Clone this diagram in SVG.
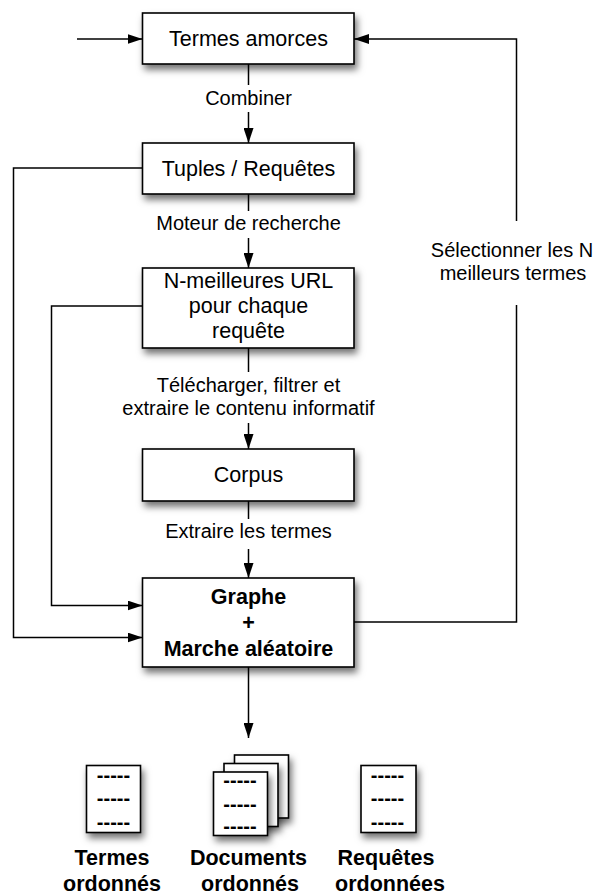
<svg xmlns="http://www.w3.org/2000/svg" width="595" height="895" viewBox="0 0 595 895">
<style>
.box{fill:#fff;stroke:#000;stroke-width:1.6;filter:url(#sh)}
.page{fill:#fff;stroke:#000;stroke-width:1.6;filter:url(#sh)}
.t{font-family:"Liberation Sans",Arial,sans-serif;font-size:21.5px;text-anchor:middle;fill:#000}
.b{font-weight:bold}
.lbl{font-family:"Liberation Sans",Arial,sans-serif;font-size:20px;text-anchor:middle;fill:#000}
.dash{font-family:"Liberation Sans",Arial,sans-serif;font-size:20px;font-weight:bold;text-anchor:middle;fill:#000}
.c{fill:none;stroke:#000;stroke-width:1.5}
.bg{fill:#fff}
</style>
<defs>
<filter id="sh" x="-20%" y="-20%" width="150%" height="170%">
<feDropShadow dx="2.5" dy="5" stdDeviation="3.5" flood-color="#000" flood-opacity="0.55"/>
</filter>
<marker id="ar" markerUnits="userSpaceOnUse" markerWidth="15" markerHeight="10" refX="15" refY="5" orient="auto">
<path d="M0,0 L15,5 L0,10 z" fill="#000"/>
</marker>
</defs>
<rect width="595" height="895" fill="#fff"/>

<g id="n1"><rect class="box" x="142.5" y="13" width="211.5" height="51"/><text class="t" x="248.5" y="46">Termes amorces</text></g>
<g id="n2"><rect class="box" x="142.5" y="143" width="211.5" height="51"/><text class="t" x="248.5" y="176">Tuples / Requêtes</text></g>
<g id="n3"><rect class="box" x="142.5" y="268" width="211.5" height="80"/><text class="t" x="248.5" y="288">N-meilleures URL</text><text class="t" x="248.5" y="313">pour chaque</text><text class="t" x="248.5" y="338">requête</text></g>
<g id="n4"><rect class="box" x="142.5" y="449" width="211.5" height="52"/><text class="t" x="248.5" y="482">Corpus</text></g>
<g id="n5"><rect class="box" x="142.5" y="578" width="211.5" height="89"/><text class="t b" x="248.5" y="604">Graphe</text><text class="t b" x="248.5" y="630">+</text><text class="t b" x="248.5" y="656">Marche aléatoire</text></g>

<g id="connectors">
<path class="c" d="M77,39 H142.5" marker-end="url(#ar)"/>
<path class="c" d="M248.5,64 V143" marker-end="url(#ar)"/>
<path class="c" d="M248.5,194 V268" marker-end="url(#ar)"/>
<path class="c" d="M248.5,348 V449" marker-end="url(#ar)"/>
<path class="c" d="M248.5,501 V578" marker-end="url(#ar)"/>
<path class="c" d="M248.5,667 V738" marker-end="url(#ar)"/>
<path class="c" d="M142.5,168 H13.5 V637.5 H142.5" marker-end="url(#ar)"/>
<path class="c" d="M142.5,306 H51.5 V605.5 H142.5" marker-end="url(#ar)"/>
<path class="c" d="M354,622 H516.5 V39 H354" marker-end="url(#ar)"/>
<rect class="bg" x="200" y="85" width="97" height="27"/>
<text class="lbl" x="248.5" y="105">Combiner</text>
<rect class="bg" x="152" y="211" width="193" height="27"/>
<text class="lbl" x="248.5" y="230">Moteur de recherche</text>
<rect class="bg" x="121" y="372" width="259" height="51"/>
<text class="lbl" x="248.5" y="392">Télécharger, filtrer et</text>
<text class="lbl" x="248.5" y="415">extraire le contenu informatif</text>
<rect class="bg" x="160" y="519" width="178" height="30"/>
<text class="lbl" x="248.5" y="538">Extraire les termes</text>
<rect class="bg" x="428" y="221" width="167" height="84"/>
<text class="lbl" x="512" y="257">Sélectionner les N</text>
<text class="lbl" x="513" y="280">meilleurs termes</text>
</g>

<g id="out1">
<rect class="page" x="86.5" y="765.5" width="54" height="67"/>
<text class="dash" x="113.5" y="781.5">-----</text>
<text class="dash" x="113.5" y="805">-----</text>
<text class="dash" x="113.5" y="829">-----</text>
<text class="t b" x="112" y="865">Termes</text>
<text class="t b" x="112" y="891">ordonnés</text>
</g>
<g id="out2">
<rect class="page" x="234.5" y="755" width="54" height="63"/>
<rect class="page" x="224" y="763.5" width="54" height="63"/>
<rect class="page" x="213.5" y="772" width="54" height="63.5"/>
<text class="dash" x="240" y="786.5">-----</text>
<text class="dash" x="240" y="810.5">-----</text>
<text class="dash" x="240" y="833">-----</text>
<text class="t b" x="248.5" y="865">Documents</text>
<text class="t b" x="250" y="891">ordonnés</text>
</g>
<g id="out3">
<rect class="page" x="361" y="765.5" width="55" height="67"/>
<text class="dash" x="387.5" y="781.5">-----</text>
<text class="dash" x="387.5" y="805">-----</text>
<text class="dash" x="387.5" y="829">-----</text>
<text class="t b" x="386" y="865">Requêtes</text>
<text class="t b" x="390" y="891">ordonnées</text>
</g>
</svg>
